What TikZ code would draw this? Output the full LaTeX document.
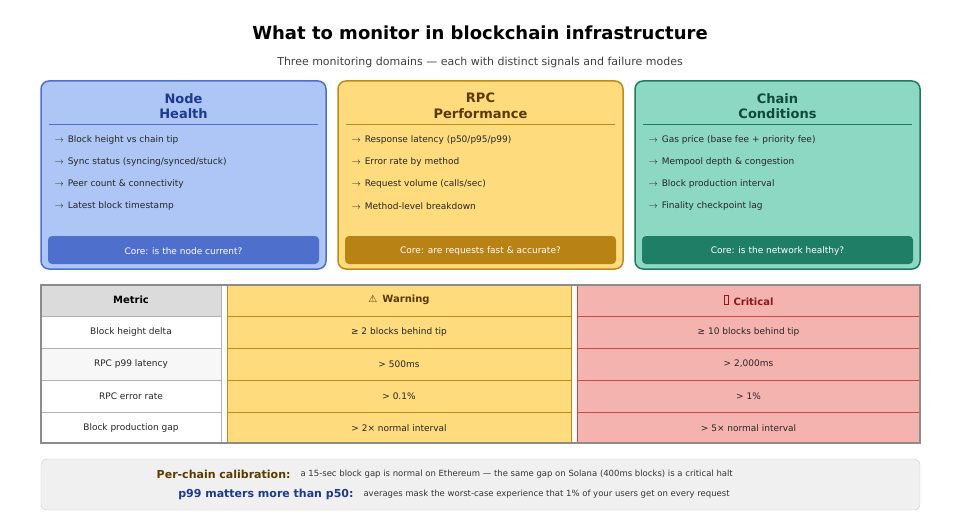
\documentclass[tikz,border=0pt]{standalone}
\usepackage{fontspec}
\setmainfont{DejaVu Sans}
\begin{document}
\begin{tikzpicture}[x=1pt,y=-1pt,
 card/.style={rounded corners=8pt,line width=1.5pt},
 foot/.style={rounded corners=4pt,draw=none},
 ctitle/.style={font=\fontsize{13}{15.5}\selectfont\bfseries,align=center},
 bul/.style={anchor=west,font=\fontsize{9}{11}\selectfont,text=black!85},
 ftxt/.style={font=\fontsize{9}{11}\selectfont,text=white},
 cell/.style={font=\fontsize{9}{11}\selectfont,text=black!85}]
\definecolor{bF}{HTML}{AEC6F5}\definecolor{bD}{HTML}{4F6FCC}\definecolor{bT}{HTML}{1C3A8F}
\definecolor{yF}{HTML}{FEDB7D}\definecolor{yD}{HTML}{C08A1A}\definecolor{yT}{HTML}{5A3A00}\definecolor{yB}{HTML}{B88214}
\definecolor{gF}{HTML}{8DD8C3}\definecolor{gD}{HTML}{1E7A60}\definecolor{gT}{HTML}{0F4A3A}\definecolor{gB}{HTML}{1E7F66}
\definecolor{rF}{HTML}{F5B3B0}\definecolor{rD}{HTML}{C94A40}\definecolor{rT}{HTML}{8A1A1A}
\useasboundingbox (0,0) rectangle (960,524);
\fill[white] (0,0) rectangle (960,524);
\node (title) at (480,33) {\fontsize{18}{20}\selectfont\bfseries What to monitor in blockchain infrastructure};
\node (sub) at (480,62) {\fontsize{11}{13}\selectfont\color{black!75}Three monitoring domains — each with distinct signals and failure modes};
% cards
\foreach \x/\F/\D/\T/\B/\ta/\tb/\la/\lb/\lc/\ld/\core in {
41/bF/bD/bT/bD/Node/Health/Block height vs chain tip/Sync status (syncing\slash synced\slash stuck)/Peer count \& connectivity/Latest block timestamp/Core: is the node current?,
338/yF/yD/yT/yB/RPC/Performance/Response latency (p50\slash p95\slash p99)/Error rate by method/Request volume (calls\slash sec)/Method-level breakdown/Core: are requests fast \& accurate?,
635/gF/gD/gT/gB/Chain/Conditions/Gas price (base fee + priority fee)/Mempool depth \& congestion/Block production interval/Finality checkpoint lag/Core: is the network healthy?}{
 \draw[card,fill=\F,draw=\D] (\x,81) rectangle ++(285,188);
 \node[ctitle,text=\T] at (\x+142.5,106) {\ta\\\tb};
 \draw[\D,line width=0.8pt] (\x+8,124) -- (\x+277,124);
 \foreach \t [count=\i] in {\la,\lb,\lc,\ld}
   \node[bul] at (\x+10,118+22*\i) {$\rightarrow$\hspace{4pt}\t};
 \fill[foot,fill=\B] (\x+7,236) rectangle ++(271,28);
 \node[ftxt] at (\x+142.5,251) {\core};
}
% table
\fill[black!14] (41,285) rectangle (221,316);
\foreach \i in {0,2} \fill[white] (41,316+32*\i) rectangle (221,348+32*\i);
\foreach \i in {1,3} \fill[black!3] (41,316+32*\i) rectangle (221,348+32*\i);
\fill[white] (41,412) rectangle (221,443);
\fill[yF] (227,285) rectangle (571,443);
\fill[rF] (577,285) rectangle (920,443);
\foreach \y in {316,348,380,412}{
 \draw[black!30] (41,\y) -- (221,\y);
 \draw[yD] (227,\y) -- (571,\y);
 \draw[rD] (577,\y) -- (920,\y);}
\draw[yD] (227,285) -- (227,443) (571,285) -- (571,443);
\draw[rD] (577,285) -- (577,443);
\draw[black!30] (221,285) -- (221,443);
\draw[black!45,line width=1.5pt] (41,285) rectangle (920,443);
\node[font=\fontsize{10}{12}\selectfont\bfseries] (mh) at (131,300) {Metric};
\node[font=\fontsize{10}{12}\selectfont\bfseries,text=yT] (wh) at (399,300) {⚠\hspace{5pt}Warning};
\node[font=\fontsize{10}{12}\selectfont\bfseries,text=rT] (ch) at (748.5,300) {\tikz[baseline=-1pt]\draw[rT,line width=0.5pt] (0,0) rectangle (4.5pt,9pt);\hspace{5pt}Critical};
\foreach \m/\w/\c [count=\i] in {Block height delta/≥ 2 blocks behind tip/≥ 10 blocks behind tip,
 RPC p99 latency/> 500ms/> 2{,}000ms, RPC error rate/> 0.1\%/> 1\%,
 Block production gap/> 2× normal interval/> 5× normal interval}{
 \node[cell] at (131,300+32*\i) {\m};
 \node[cell] at (399,300+32*\i) {\w};
 \node[cell] at (748.5,300+32*\i) {\c};}
% bottom
\draw[rounded corners=6pt,fill=black!6,draw=black!20] (41,459) rectangle (920,510);
\node[anchor=east,font=\fontsize{11}{13}\selectfont\bfseries,text=yT] (pc) at (294,474) {Per-chain calibration:};
\node[anchor=west,font=\fontsize{8.5}{10}\selectfont,text=black!80] (pct) at (297,474) {a 15-sec block gap is normal on Ethereum — the same gap on Solana (400ms blocks) is a critical halt};
\node[anchor=east,font=\fontsize{11}{13}\selectfont\bfseries,text=bT] (pm) at (357,494) {p99 matters more than p50:};
\node[anchor=west,font=\fontsize{8.5}{10}\selectfont,text=black!80] (pmt) at (360,494) {averages mask the worst-case experience that 1\% of your users get on every request};
\end{tikzpicture}
\end{document}
